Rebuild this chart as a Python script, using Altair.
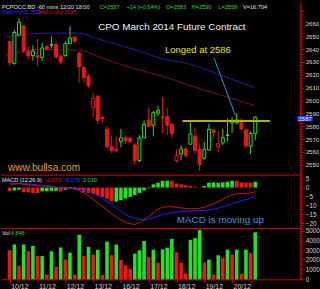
import altair as alt
import pandas as pd

# ---------------- data ----------------
bar_index = list(range(54))
opens = [2646, 2629, 2651, 2658, 2638.5, 2635, 2635, 2633.6, 2642, 2643, 2643.6, 2634.6, 2635, 2644.4, 2649.5,
         2637, 2625.6, 2619, 2594.6, 2603.4, 2587, 2577.7, 2564, 2562, 2568, 2571, 2570.5, 2565.4, 2553.3, 2571,
         2584.6, 2580.8, 2590.2, 2587.3, 2587.7, 2581.5, 2553.3, 2558.5, 2562.3, 2566, 2572.3, 2562, 2555, 2561.5,
         2577, 2564, 2567, 2572.8, 2582.5, 2582.5, 2584.6, 2577, 2564.6, 2574.4]
closes = [2629.5, 2653, 2661, 2638.5, 2635, 2638.5, 2633.6, 2641, 2640, 2643.6, 2634, 2630, 2644.4, 2648.7, 2646,
          2626.2, 2618, 2611.5, 2601.6, 2584.6, 2586, 2564, 2561, 2561, 2571, 2568.7, 2568, 2553.3, 2571, 2581.5,
          2580, 2590.5, 2592.3, 2586.7, 2580.8, 2574.4, 2557.2, 2562.3, 2557, 2574, 2561, 2550, 2562, 2577.5,
          2575, 2566.7, 2571, 2573.2, 2584, 2585, 2578, 2564.6, 2574.4, 2587]
highs = [2647, 2655, 2664, 2659, 2642, 2643, 2648, 2645, 2643, 2650, 2646, 2636, 2646, 2657.7, 2650, 2638, 2627,
         2620.5, 2606, 2604, 2587.7, 2580, 2573, 2572, 2578, 2573, 2571.5, 2566.7, 2573, 2584.6, 2594.4, 2592, 2596,
         2602.5, 2594.4, 2582.5, 2562, 2565, 2564, 2583, 2579, 2566.7, 2568, 2582, 2578, 2576.4, 2578, 2586, 2587,
         2590, 2586, 2578.5, 2576, 2587.7]
lows = [2627, 2628, 2650, 2637, 2632, 2631, 2627, 2631, 2639, 2640.5, 2633, 2628, 2634, 2644, 2645.5, 2614, 2614,
        2610, 2587, 2582, 2583.3, 2563, 2559, 2560, 2563.6, 2566, 2567, 2550, 2552, 2570.8, 2579.5, 2572, 2588,
        2574.4, 2573, 2571, 2551.8, 2553.8, 2555.5, 2565.4, 2559, 2545, 2554, 2561, 2571, 2560, 2565.4, 2568, 2575,
        2581.5, 2577, 2563, 2558.5, 2569]
# R = falling (filled red), G = rising (hollow green), H = hollow red
candle_kind = ["R", "G", "G", "R", "R", "G", "R", "G", "R", "G", "R", "R", "G", "G", "R", "R", "R", "R", "H", "R",
               "R", "R", "R", "R", "G", "R", "R", "R", "G", "G", "R", "G", "G", "R", "R", "R", "H", "G", "R", "G",
               "R", "R", "G", "G", "R", "H", "G", "G", "G", "G", "R", "R", "G", "G"]

sma_h_idx = [-0.8, 2.6, 9.5, 15, 18.4, 23.2, 28, 32.2, 39, 46, 52.8]
sma_h_val = [2649.5, 2651.3, 2652.5, 2652.5, 2648.7, 2643.6, 2638.5, 2633.3, 2628.2, 2619.2, 2610.2]
sma_l_idx = [-0.8, 1.2, 6, 15, 19.8, 23.9, 28, 32.2, 39, 46, 52.8]
sma_l_val = [2635.1, 2637.2, 2639.8, 2639.2, 2633.3, 2628.2, 2623.8, 2619.8, 2611.5, 2603.8, 2596.2]

macd_line = [1.8, 1.9, 2.2, 1.8, 1.5, 1.2, 0.8, 0.9, 0.8, 0.6, 0.2, -0.3, -0.2, 0.0, -0.8, -1.8, -3.0, -4.5, -6.5,
             -8.5, -10.5, -12.5, -14.5, -16.5, -18.0, -19.3, -20.2, -20.5, -19.5, -17.8, -16.0, -14.0, -12.0, -11.0,
             -10.7, -10.7, -11.0, -11.3, -11.6, -11.8, -11.8, -11.5, -11.0, -10.0, -9.0, -7.8, -6.5, -5.0, -4.0,
             -3.5, -3.3, -3.2, -3.0, -2.3]
signal_line = [2.2, 2.2, 2.3, 2.2, 2.0, 1.8, 1.5, 1.3, 1.0, 0.7, 0.3, 0.0, -0.3, -0.5, -0.8, -1.1, -1.5, -2.2,
               -3.2, -4.5, -6.0, -7.8, -9.5, -11.5, -13.2, -15.0, -16.3, -17.2, -17.8, -18.0, -17.6, -16.8, -15.8,
               -15.0, -14.5, -14.0, -13.6, -13.3, -13.1, -13.0, -12.9, -12.8, -12.7, -12.4, -12.0, -11.4, -10.7,
               -9.9, -9.0, -8.2, -7.4, -6.6, -5.8, -5.0]
macd_hist = [-2.1, -1.6, -1.2, -2.5, -2.7, -3.0, -3.0, -2.1, -2.1, -1.8, -1.8, -2.1, -1.2, -0.7, -0.7, -1.2, -2.5,
             -3.0, -3.6, -4.5, -5.2, -6.2, -7.5, -7.8, -7.1, -6.1, -5.2, -4.3, -3.0, -1.6, -0.4, 1.8, 2.7, 3.8, 3.8,
             3.8, 2.3, 1.8, 1.3, 0.9, 0.5, 0.2, 0.9, 2.7, 2.9, 2.7, 2.9, 3.2, 3.8, 3.8, 2.9, 2.7, 2.7, 3.2]
hist_dir = ["R", "G", "G", "R", "R", "R", "R", "G", "G", "G", "G", "R", "G", "G", "G", "R", "R", "R", "R", "R",
            "R", "R", "R", "G", "G", "G", "G", "G", "G", "G", "G", "G", "G", "G", "G", "R", "R", "R", "R", "R",
            "R", "R", "G", "G", "G", "G", "G", "G", "G", "R", "R", "R", "R", "G"]

volume = [3000, 3600, 1400, 3600, 2900, 3450, 2400, 2400, 500, 2900, 1300, 3300, 2050, 2750, 500, 4600, 2400,
          3350, 2550, 3050, 450, 3900, 2500, 3600, 2000, 1450, 1100, 2650, 3000, 3950, 2300, 3060, 1700, 3100,
          3270, 4180, 2800, 1700, 600, 4080, 4250, 5100, 1730, 2040, 500, 2480, 2240, 3060, 2550, 3060, 600,
          3060, 2720, 4860]
vol_dir = ["R", "G", "R", "G", "R", "G", "R", "G", "R", "G", "R", "G", "R", "G", "R", "G", "R", "G", "R", "G",
           "R", "G", "R", "G", "R", "R", "R", "G", "G", "G", "R", "G", "R", "G", "G", "G", "R", "R", "R", "G",
           "G", "G", "R", "G", "R", "G", "R", "G", "R", "G", "R", "G", "R", "G"]

day_start_index = [0, 6, 12, 18, 24, 30, 36, 42, 48]
day_labels = ["10/12", "11/12", "12/12", "13/12", "16/12", "17/12", "18/12", "19/12", "20/12"]

# ---------------- styling ----------------
RED = "#f01414"
GREEN = "#1ee61e"
FONT = "Liberation Sans"
AXIS_RED = "#e00000"
W = 303
H_PRICE, H_MACD, H_VOL = 175, 54, 52

xs = alt.Scale(domain=[-0.825, 61.65], nice=False, zero=False)
ps = alt.Scale(domain=[2542.3, 2676.9], nice=False, zero=False)
ms = alt.Scale(domain=[-22.5, 7.2], nice=False, zero=False)
vs = alt.Scale(domain=[0, 5306], nice=False, zero=False)


def right_axis(values, major, fmt, maxlab=None, size=6.5):
    cond = f"datum.value % {major} == 0"
    if maxlab is not None:
        cond += f" && datum.value <= {maxlab}"
    return alt.Axis(orient="right", values=values, format=fmt, title=None,
                    labelExpr=f"{cond} ? datum.label : ''",
                    tickSize={"condition": {"test": f"datum.value % {major} == 0", "value": 4}, "value": 2},
                    labelPadding=1, labelOverlap=False, labelFlush=False, grid=False,
                    domainColor=AXIS_RED, tickColor=AXIS_RED, labelColor="#d4d4d4",
                    labelFont=FONT, labelFontSize=size)


one = pd.DataFrame({"t": [""]})


def label(text, px, py, color, size, align="left"):
    return alt.Chart(pd.DataFrame({"t": [text]})).mark_text(
        align=align, baseline="alphabetic", color=color, fontSize=size, font=FONT
    ).encode(x=alt.value(px), y=alt.value(py), text="t:N")


candles = pd.DataFrame({"i": bar_index, "open": opens, "close": closes, "high": highs, "low": lows,
                        "kind": candle_kind})
sma_h = pd.DataFrame({"i": sma_h_idx, "v": sma_h_val})
sma_l = pd.DataFrame({"i": sma_l_idx, "v": sma_l_val})

kind_dom = ["R", "G", "H"]
x_enc = alt.X("i:Q", scale=xs, axis=None, title=None)

price_axis = right_axis(list(range(2544, 2672, 2)), 10, "d", 2660, size=6.2)


def py(v):
    return alt.YDatum(v, scale=ps, axis=price_axis, title=None)


sma_h_line = alt.Chart(sma_h).mark_line(color="#22229a", strokeWidth=1, interpolate="monotone").encode(
    x=x_enc, y=alt.Y("v:Q", scale=ps, axis=price_axis, title=None))
sma_l_line = alt.Chart(sma_l).mark_line(color="#7c1414", strokeWidth=1, interpolate="monotone").encode(
    x=x_enc, y=alt.Y("v:Q", scale=ps, axis=price_axis, title=None))

wicks = alt.Chart(candles).mark_rule(strokeWidth=1).encode(
    x=x_enc, y=alt.Y("low:Q", scale=ps, axis=price_axis, title=None), y2="high:Q",
    color=alt.Color("kind:N", scale=alt.Scale(domain=kind_dom, range=[RED, GREEN, RED]), legend=None))
bodies = alt.Chart(candles).mark_bar(size=3, strokeWidth=1).encode(
    x=x_enc, y=alt.Y("open:Q", scale=ps, axis=price_axis, title=None), y2="close:Q",
    fill=alt.Fill("kind:N", scale=alt.Scale(domain=kind_dom, range=[RED, "#000000", "#000000"]), legend=None),
    stroke=alt.Stroke("kind:N", scale=alt.Scale(domain=kind_dom, range=[RED, GREEN, RED]), legend=None))

long_line = alt.Chart(one).mark_rule(color="#b4b400", strokeWidth=2).encode(
    x=alt.XDatum(37.3, scale=xs, axis=None), x2=alt.X2Datum(56.2), y=py(2584))
pointer = alt.Chart(one).mark_rule(color="#2b93d6", strokeWidth=1).encode(
    x=alt.XDatum(44.1, scale=xs, axis=None), x2=alt.X2Datum(48.7),
    y=py(2633.3), y2=alt.Y2Datum(2588.5))
long_text = alt.Chart(pd.DataFrame({"t": ["Longed at 2586"]})).mark_text(
    align="left", baseline="alphabetic", color="#e8e800", fontSize=9.6, font=FONT).encode(
    x=alt.XDatum(33.5, scale=xs, axis=None), y=py(2636.9), text="t:N")
last_box = alt.Chart(one).mark_rect(color="#1e3cff").encode(
    x=alt.XDatum(62.1, scale=xs, axis=None), x2=alt.X2Datum(65.4),
    y=py(2587.9), y2=alt.Y2Datum(2583.8))
last_text = alt.Chart(pd.DataFrame({"t": ["2587"]})).mark_text(
    align="left", baseline="middle", color="#d8f0ff", fontSize=6, font=FONT).encode(
    x=alt.XDatum(62.3, scale=xs, axis=None), y=py(2585.85), text="t:N")

price = alt.layer(
    sma_h_line, sma_l_line, wicks, bodies, long_line, pointer, long_text, last_box, last_text,
    label("PCPOCC.BD -60 mins 12/20 18:00", 1, 6.8, "#e0e0e0", 5.7),
    label("C=2587", 100, 6.8, "#22dd22", 5.7),
    label("+14 (+0.54%)", 127, 6.8, "#22dd22", 5.7),
    label("O=2583", 167, 6.8, "#22dd22", 5.7),
    label("H=2590", 193, 6.8, "#22dd22", 5.7),
    label("L=2558", 220, 6.8, "#22dd22", 5.7),
    label("V=16,704", 245, 6.8, "#e0e0e0", 5.7),
    label("SMA H (60) 2610", 1, 12.6, "#3434ff", 5.2),
    label("SMA L (90) 2595", 37, 12.6, "#d01010", 5.2),
    label("CPO March 2014 Future Contract", 173, 29, "#f0f0f0", 10, align="center"),
    label("www.bullsa.com", 7, 171.5, "#e0a000", 10.2),
).properties(width=W, height=H_PRICE)

# ---------------- MACD panel ----------------
macd_df = pd.DataFrame({"i": bar_index, "macd": macd_line, "signal": signal_line, "hist": macd_hist,
                        "dir": hist_dir})
macd_axis = right_axis(list(range(-22, 8)), 5, "d")
hist_bars = alt.Chart(macd_df).mark_bar(size=3.6).encode(
    x=x_enc, y=alt.Y("hist:Q", scale=ms, axis=macd_axis, title=None),
    color=alt.Color("dir:N", scale=alt.Scale(domain=["R", "G"], range=[RED, GREEN]), legend=None))
macd_red = alt.Chart(macd_df).mark_line(color="#d41010", strokeWidth=1).encode(
    x=x_enc, y=alt.Y("macd:Q", scale=ms, axis=macd_axis, title=None))
macd_blue = alt.Chart(macd_df).mark_line(color="#2222ff", strokeWidth=1).encode(
    x=x_enc, y=alt.Y("signal:Q", scale=ms, axis=macd_axis, title=None))
sep1 = alt.Chart(one).mark_rule(color=AXIS_RED, strokeWidth=1).encode(y=alt.value(0.5))

macd = alt.layer(
    hist_bars, macd_blue, macd_red, sep1,
    label("MACD (12,26,9)", 1, 7.5, "#e0e0e0", 5.6),
    label("-2.279", 45, 7.5, "#e01010", 5.6),
    label("-5.279", 64, 7.5, "#3434ff", 5.6),
    label("3.010", 83, 7.5, "#22dd22", 5.6),
    label("MACD is moving up", 178, 49, "#2b9be0", 10),
).properties(width=W, height=H_MACD)

# ---------------- Volume panel ----------------
vol_df = pd.DataFrame({"i": bar_index, "vol": volume, "dir": vol_dir})
vol_axis = right_axis(list(range(0, 5301, 250)), 1000, "d")
label_js = "[" + ",".join(f"'{d}'" for d in day_labels) + "]"
date_axis = alt.Axis(values=day_start_index, labelExpr=f"{label_js}[datum.value / 6]", title=None,
                     labelAlign="left", labelBaseline="top", labelPadding=0, labelOffset=1, tickSize=3,
                     domainColor=AXIS_RED, tickColor=AXIS_RED, labelColor="#d4d4d4", labelFont=FONT,
                     labelFontSize=7, grid=False, labelFlush=False, labelOverlap=False)
vol_bars = alt.Chart(vol_df).mark_bar(size=3.6).encode(
    x=alt.X("i:Q", scale=xs, axis=date_axis, title=None),
    y=alt.Y("vol:Q", scale=vs, axis=vol_axis, title=None),
    color=alt.Color("dir:N", scale=alt.Scale(domain=["R", "G"], range=[RED, GREEN]), legend=None))
sep2 = alt.Chart(one).mark_rule(color=AXIS_RED, strokeWidth=1).encode(y=alt.value(0.5))

vol = alt.layer(
    vol_bars, sep2,
    label("Vol", 1, 7, "#e0e0e0", 5.6),
    label("4,846", 10, 7, "#22dd22", 5.6),
).properties(width=W, height=H_VOL)

chart = alt.vconcat(price, macd, vol, spacing=0, bounds="flush").properties(
    padding=0, background="#000000"
).configure_view(stroke=None)

chart.save("out.html", embed_options={"renderer": "svg", "actions": False})
